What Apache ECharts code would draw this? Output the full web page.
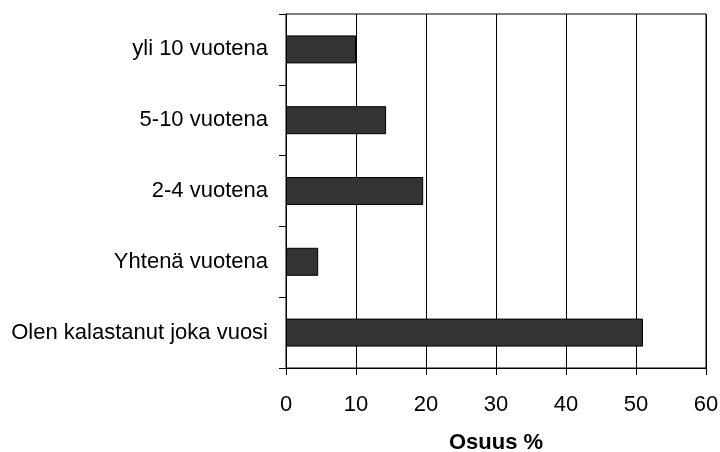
<!DOCTYPE html>
<html>
<head>
<meta charset="utf-8">
<script src="https://cdn.jsdelivr.net/npm/echarts@6/dist/echarts.min.js"></script>
<style>html,body{margin:0;padding:0;background:#fff;}#c{width:720px;height:452px;}</style>
</head>
<body>
<div id="c"></div>
<script>
const categories = ["yli 10 vuotena", "5-10 vuotena", "2-4 vuotena", "Yhtenä vuotena", "Olen kalastanut joka vuosi"];
const values = [10.0, 14.3, 19.6, 4.6, 51.0];
const xTicks = [0, 10, 20, 30, 40, 50, 60];
const xName = "Osuus %";

const chart = echarts.init(document.getElementById('c'), null, {renderer: 'canvas'});
const font = "'Liberation Sans', Arial, sans-serif";
chart.setOption({
  animation: false,
  backgroundColor: '#fff',
  grid: {left: 286, right: 14, top: 14, bottom: 84, outerBoundsMode: 'none', containLabel: false, show: true, borderColor: '#000', borderWidth: 1, backgroundColor: 'transparent'},
  xAxis: {
    type: 'value', min: xTicks[0], max: xTicks[xTicks.length - 1], interval: 10,
    name: xName, nameLocation: 'middle', nameGap: 64,
    nameTextStyle: {fontFamily: font, fontSize: 22, fontWeight: 'bold', color: '#000'},
    axisLine: {show: true, lineStyle: {color: '#000', width: 1}},
    axisTick: {show: true, length: 7, lineStyle: {color: '#000'}},
    axisLabel: {margin: 26, fontFamily: font, fontSize: 22, color: '#000'},
    splitLine: {show: true, lineStyle: {color: '#000', width: 1}}
  },
  yAxis: {
    type: 'category', data: categories, inverse: true,
    axisLine: {show: true, lineStyle: {color: '#000', width: 1}},
    axisTick: {show: true, length: 7, lineStyle: {color: '#000'}},
    axisLabel: {margin: 18, fontFamily: font, fontSize: 22, color: '#000'},
    splitLine: {show: false}
  },
  series: [{
    type: 'bar', data: values, barWidth: 28,
    itemStyle: {color: '#333333', borderColor: '#000', borderWidth: 1}
  }]
});
</script>
</body>
</html>
